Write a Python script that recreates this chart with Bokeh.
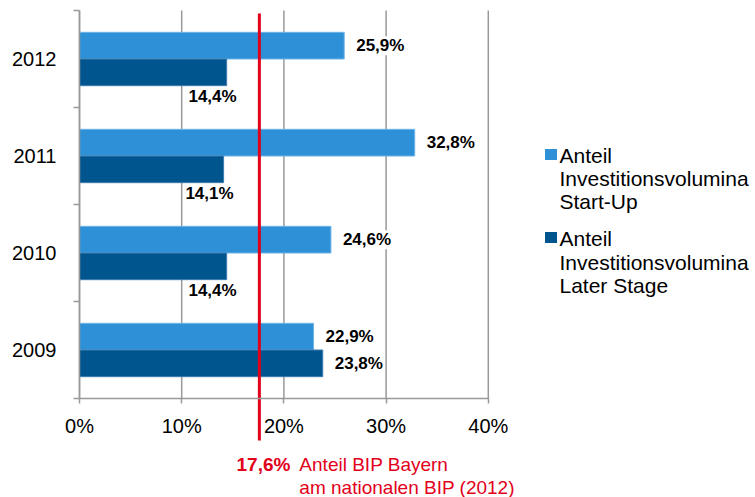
from bokeh.plotting import figure
from bokeh.models import ColumnDataSource, LabelSet, LinearAxis, FixedTicker, Range1d
from bokeh.core.properties import value
from bokeh.embed import file_html
from bokeh.resources import INLINE

# --- data ---------------------------------------------------------------
years = ["2009", "2010", "2011", "2012"]
start_up = [22.9, 24.6, 32.8, 25.9]        # Anteil Investitionsvolumina Start-Up (%)
later_stage = [23.8, 14.4, 14.1, 14.4]     # Anteil Investitionsvolumina Later Stage (%)
x_ticks = [0, 10, 20, 30, 40]
x_tick_labels = ["0%", "10%", "20%", "30%", "40%"]
bip_share = 17.6                           # Anteil BIP Bayern am nationalen BIP (2012)
bip_text = ["Anteil BIP Bayern", "am nationalen BIP (2012)"]
legend_lines = [["Anteil", "Investitionsvolumina", "Start-Up"],
                ["Anteil", "Investitionsvolumina", "Later Stage"]]

# --- styling --------------------------------------------------------------
W, H = 755, 497
FONT = "Liberation Sans"
C_START = "#2E90D6"
C_LATER = "#00558E"
C_RED = "#E2001A"
C_GRID = "#999999"

# pixel geometry of the plotting area (frame fills the whole canvas)
LEFT_PX, PX_PER_PCT = 79, 10.22
BOTTOM_PX, PX_PER_CAT = 398, 97
BAR_H = 0.275


def fx(px):
    return (px - LEFT_PX) / PX_PER_PCT


def fy(py):
    return (BOTTOM_PX - py) / PX_PER_CAT


def pct(v):
    return f"{v:.1f}".replace(".", ",") + "%"


p = figure(width=W, height=H,
           x_range=Range1d(fx(0), fx(W)), y_range=Range1d(fy(H), fy(0)),
           x_axis_type=None, y_axis_type=None,
           toolbar_location=None, output_backend="svg",
           min_border=0, outline_line_color=None)
p.xgrid.visible = False
p.ygrid.visible = False
p.background_fill_color = "white"
p.border_fill_color = "white"

n = len(years)

# vertical gridlines
p.segment(x0=x_ticks, y0=[0] * len(x_ticks), x1=x_ticks, y1=[n] * len(x_ticks),
          line_color=C_GRID, line_width=1.5)

# bars
y_start = [i + 0.5 + BAR_H / 2 for i in range(n)]
y_later = [i + 0.5 - BAR_H / 2 for i in range(n)]
p.hbar(y=y_start, left=0, right=start_up, height=BAR_H,
       fill_color=C_START, line_color="#6FB4E8", line_width=1)
p.hbar(y=y_later, left=0, right=later_stage, height=BAR_H,
       fill_color=C_LATER, line_color="#3D7DB0", line_width=1)

# reference line for the BIP share
p.segment(x0=[bip_share], y0=[fy(13)], x1=[bip_share], y1=[fy(440)],
          line_color=C_RED, line_width=3)

# axes drawn at fixed positions inside the frame
xaxis = LinearAxis(fixed_location=0, bounds=(0, 40),
                   ticker=FixedTicker(ticks=x_ticks))
xaxis.major_label_overrides = {t: l for t, l in zip(x_ticks, x_tick_labels)}
xaxis.axis_line_color = C_GRID
xaxis.axis_line_width = 1.5
xaxis.major_tick_line_color = C_GRID
xaxis.major_tick_line_width = 1.5
xaxis.major_tick_in = 0
xaxis.major_tick_out = 5
xaxis.minor_tick_line_color = None
xaxis.major_label_standoff = 11
xaxis.major_label_text_font = FONT
xaxis.major_label_text_font_size = "20px"
xaxis.major_label_text_color = "black"
p.add_layout(xaxis, "below")

cat_centers = [i + 0.5 for i in range(n)]
yaxis = LinearAxis(fixed_location=0, bounds=(0, n),
                   ticker=FixedTicker(ticks=cat_centers, minor_ticks=list(range(n + 1))))
yaxis.major_label_overrides = {c: y for c, y in zip(cat_centers, years)}
yaxis.axis_line_color = C_GRID
yaxis.axis_line_width = 1.5
yaxis.major_tick_line_color = None
yaxis.major_tick_in = 0
yaxis.major_tick_out = 0
yaxis.minor_tick_line_color = C_GRID
yaxis.minor_tick_line_width = 1.5
yaxis.minor_tick_in = 0
yaxis.minor_tick_out = 6
yaxis.major_label_standoff = 17
yaxis.major_label_text_font = FONT
yaxis.major_label_text_font_size = "20px"
yaxis.major_label_text_color = "black"
p.add_layout(yaxis, "left")

# value labels
lab_style = dict(text_font=value(FONT), text_font_size="17px", text_font_style="bold",
                 text_color="black", text_baseline="middle",
                 background_fill_color="white", background_fill_alpha=1.0)

src_start = ColumnDataSource(dict(x=start_up, y=y_start, t=[pct(v) for v in start_up]))
p.add_layout(LabelSet(x="x", y="y", text="t", source=src_start, x_offset=12,
                      text_align="left", **lab_style))

right_idx = [i for i, v in enumerate(later_stage) if v >= bip_share]
below_idx = [i for i, v in enumerate(later_stage) if v < bip_share]
src_lr = ColumnDataSource(dict(x=[later_stage[i] for i in right_idx],
                               y=[y_later[i] for i in right_idx],
                               t=[pct(later_stage[i]) for i in right_idx]))
p.add_layout(LabelSet(x="x", y="y", text="t", source=src_lr, x_offset=12,
                      text_align="left", **lab_style))
src_lb = ColumnDataSource(dict(x=[later_stage[i] for i in below_idx],
                               y=[y_later[i] - 24 / PX_PER_CAT for i in below_idx],
                               t=[pct(later_stage[i]) for i in below_idx]))
p.add_layout(LabelSet(x="x", y="y", text="t", source=src_lb, x_offset=10,
                      text_align="right", **lab_style))

# annotation for the reference line
line_px = LEFT_PX + bip_share * PX_PER_PCT
p.text(x=[fx(line_px + 31)], y=[fy(464)], text=[pct(bip_share)],
       text_font=value(FONT), text_font_size="19px", text_font_style="bold",
       text_color=C_RED, text_align="right", text_baseline="middle")
p.text(x=[fx(line_px + 40)] * 2, y=[fy(464), fy(486.5)], text=bip_text,
       text_font=value(FONT), text_font_size="19px",
       text_color=C_RED, text_align="left", text_baseline="middle")

# legend
leg_colors = [C_START, C_LATER]
leg_square_y = [154, 237]
leg_text_y = [[155, 178, 201], [238, 261.5, 285]]
p.rect(x=[fx(550.5)] * 2, y=[fy(v) for v in leg_square_y], width=12, height=11,
       width_units="screen", height_units="screen",
       fill_color=leg_colors, line_color=None)
for lines, ys in zip(legend_lines, leg_text_y):
    p.text(x=[fx(559)] * len(lines), y=[fy(v) for v in ys], text=lines,
           text_font=value(FONT), text_font_size="21px", text_color="black",
           text_align="left", text_baseline="middle")

open("out.html", "w").write(file_html(p, INLINE))
